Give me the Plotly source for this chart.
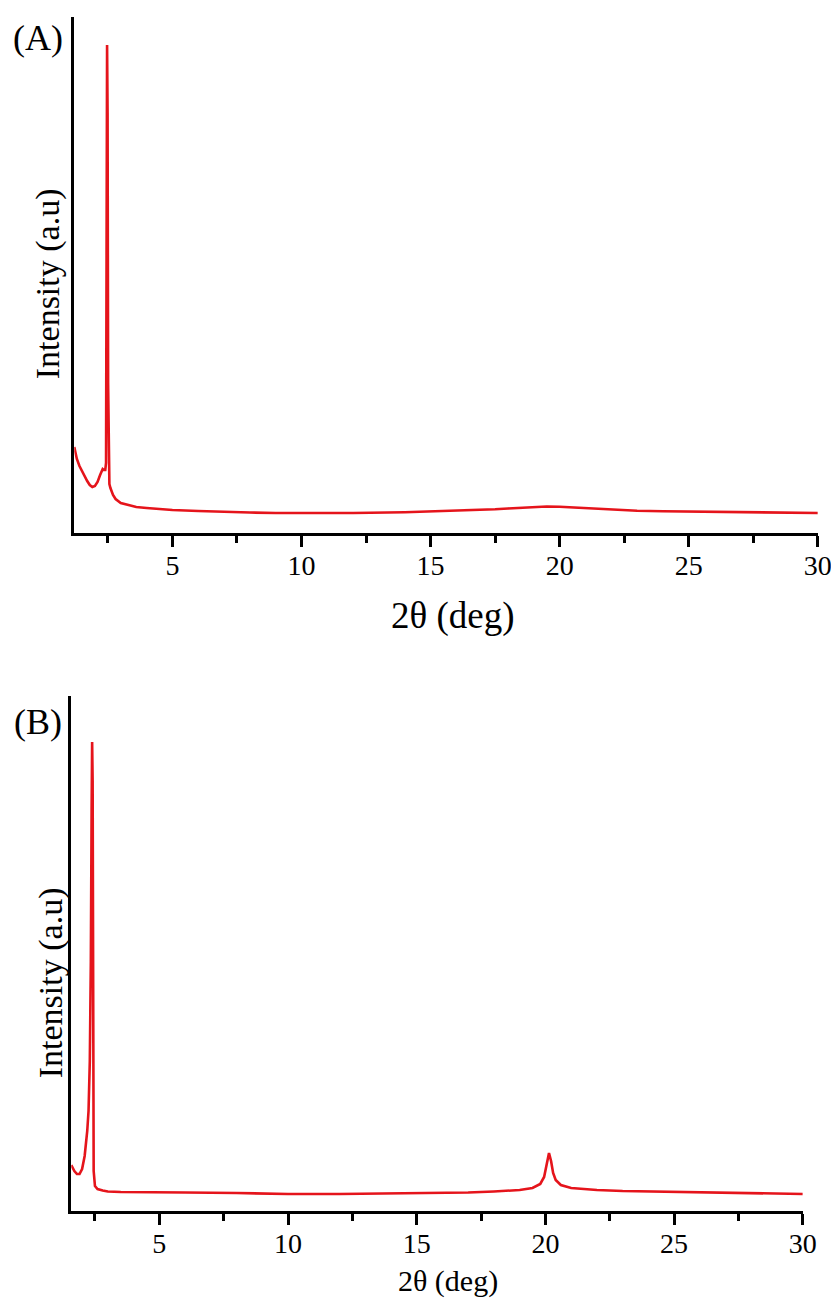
import plotly.graph_objects as go

# ---------------- data ----------------
# Panel A
two_theta_a = [1.2, 1.3, 1.4, 1.5, 1.6, 1.7, 1.8, 1.9, 2.0, 2.1, 2.2, 2.25, 2.3, 2.35,
               2.4, 2.43, 2.45, 2.47, 2.49, 2.51, 2.53, 2.56, 2.6, 2.7, 2.8, 3.0, 3.3,
               3.6, 4.0, 4.5, 5, 6, 7, 8, 9, 10, 12, 14, 15, 16, 17, 17.5, 18, 18.5,
               19, 19.5, 20, 20.5, 21, 21.5, 22, 23, 24, 25, 26, 27, 28, 29, 30]
intensity_a = [86, 74, 67, 62, 56, 52, 48, 46, 47, 51, 58, 62, 64, 63,
               63, 70, 250, 488, 420, 150, 56, 49, 45, 38, 34, 30, 28,
               26, 25, 24, 23, 22, 21, 20.5, 20, 20, 20, 20.8, 21.5, 22, 23, 23.7, 24.5, 25.3,
               26, 26.5, 26.3, 25.6, 24.8, 23.8, 23, 22.2, 21.7, 21.5, 21.2, 21, 20.6, 20.3, 20]

# Panel B
two_theta_b = [1.58, 1.7, 1.8, 1.9, 2.0, 2.1, 2.2, 2.25, 2.3, 2.34, 2.37, 2.39, 2.41,
               2.43, 2.45, 2.5, 2.6, 2.8, 3.0, 3.5, 4, 5, 6, 8, 10, 12, 14, 16, 17, 18,
               19, 19.5, 19.8, 19.95, 20.05, 20.14, 20.22, 20.3, 20.4, 20.6, 21, 22, 23,
               24, 25, 26, 27, 28, 29, 30]
intensity_b = [46, 40, 37, 37, 42, 55, 80, 100, 150, 250, 400, 469, 430,
               200, 40, 25, 22, 20.5, 19.5, 19, 19, 19, 18.5, 18, 17, 17, 17.5, 18, 18.5, 19.5,
               21, 23, 27, 34, 48, 58, 50, 38, 31, 26, 23, 21, 20,
               19.5, 19, 18.5, 18, 17.5, 17, 17]

major_ticks = [5, 10, 15, 20, 25, 30]
x_title = "2θ (deg)"
y_title = "Intensity (a.u)"
panel_labels = ["(A)", "(B)"]

# ---------------- figure ----------------
OFF = 8                      # page body margin of the html page
SX = 855 / 839               # horizontal compensation observed in the rendering
W, H = 839, 1307 - 2 * OFF
RED = "#e5141b"
FONT = "Times New Roman, Liberation Serif, DejaVu Serif, serif"


def px(xp):
    return (xp * SX - OFF) / W


def py(yp):
    return 1 - (yp - OFF) / H


fig = go.Figure()
fig.add_trace(go.Scatter(x=two_theta_a, y=intensity_a, mode="lines",
                         line=dict(color=RED, width=2.6, shape="linear"),
                         xaxis="x", yaxis="y", showlegend=False))
fig.add_trace(go.Scatter(x=two_theta_b, y=intensity_b, mode="lines",
                         line=dict(color=RED, width=2.6, shape="linear"),
                         xaxis="x2", yaxis="y2", showlegend=False))


def xaxis_style(rng, dom, anchor):
    return dict(domain=dom, range=rng, anchor=anchor,
                showline=True, linecolor="black", linewidth=3,
                showgrid=False, zeroline=False,
                ticks="outside", ticklen=11, tickwidth=2.5, tickcolor="black",
                tickvals=major_ticks, ticktext=[str(t) for t in major_ticks],
                ticklabelstandoff=-6,
                tickfont=dict(family=FONT, size=28, color="black"),
                minor=dict(dtick=2.5, tick0=0, ticks="outside", ticklen=7,
                           tickwidth=2.5, tickcolor="black", showgrid=False))


def yaxis_style(rng, dom, anchor):
    return dict(domain=dom, range=rng, anchor=anchor,
                showline=True, linecolor="black", linewidth=3,
                showgrid=False, zeroline=False, ticks="",
                showticklabels=False)


fig.update_layout(
    width=W, height=H,
    margin=dict(l=0, r=0, t=0, b=0),
    paper_bgcolor="white", plot_bgcolor="white",
    font=dict(family=FONT, color="black"),
    xaxis=xaxis_style([1.2, 30], [px(74), px(816)], "y"),
    yaxis=yaxis_style([0, 516], [py(533), py(17)], "x"),
    xaxis2=xaxis_style([1.58, 30], [px(71), px(801)], "y2"),
    yaxis2=yaxis_style([0, 515], [py(1211), py(696)], "x2"),
)

ann = []
# x titles
ann.append(dict(text=x_title, x=px(452), y=py(616), xref="paper", yref="paper",
                xanchor="center", yanchor="middle", showarrow=False,
                font=dict(family=FONT, size=37, color="black")))
ann.append(dict(text=x_title, x=px(447), y=py(1281), xref="paper", yref="paper",
                xanchor="center", yanchor="middle", showarrow=False,
                font=dict(family=FONT, size=30, color="black")))
# y titles
ann.append(dict(text=y_title, x=px(48), y=py(284), xref="paper", yref="paper",
                xanchor="center", yanchor="middle", showarrow=False, textangle=-90,
                font=dict(family=FONT, size=34, color="black")))
ann.append(dict(text=y_title, x=px(51), y=py(983), xref="paper", yref="paper",
                xanchor="center", yanchor="middle", showarrow=False, textangle=-90,
                font=dict(family=FONT, size=34, color="black")))
# panel labels
ann.append(dict(text=panel_labels[0], x=px(38), y=py(38), xref="paper", yref="paper",
                xanchor="center", yanchor="middle", showarrow=False,
                font=dict(family=FONT, size=36, color="black")))
ann.append(dict(text=panel_labels[1], x=px(38), y=py(722), xref="paper", yref="paper",
                xanchor="center", yanchor="middle", showarrow=False,
                font=dict(family=FONT, size=36, color="black")))
fig.update_layout(annotations=ann)

fig.write_html("out.html")
